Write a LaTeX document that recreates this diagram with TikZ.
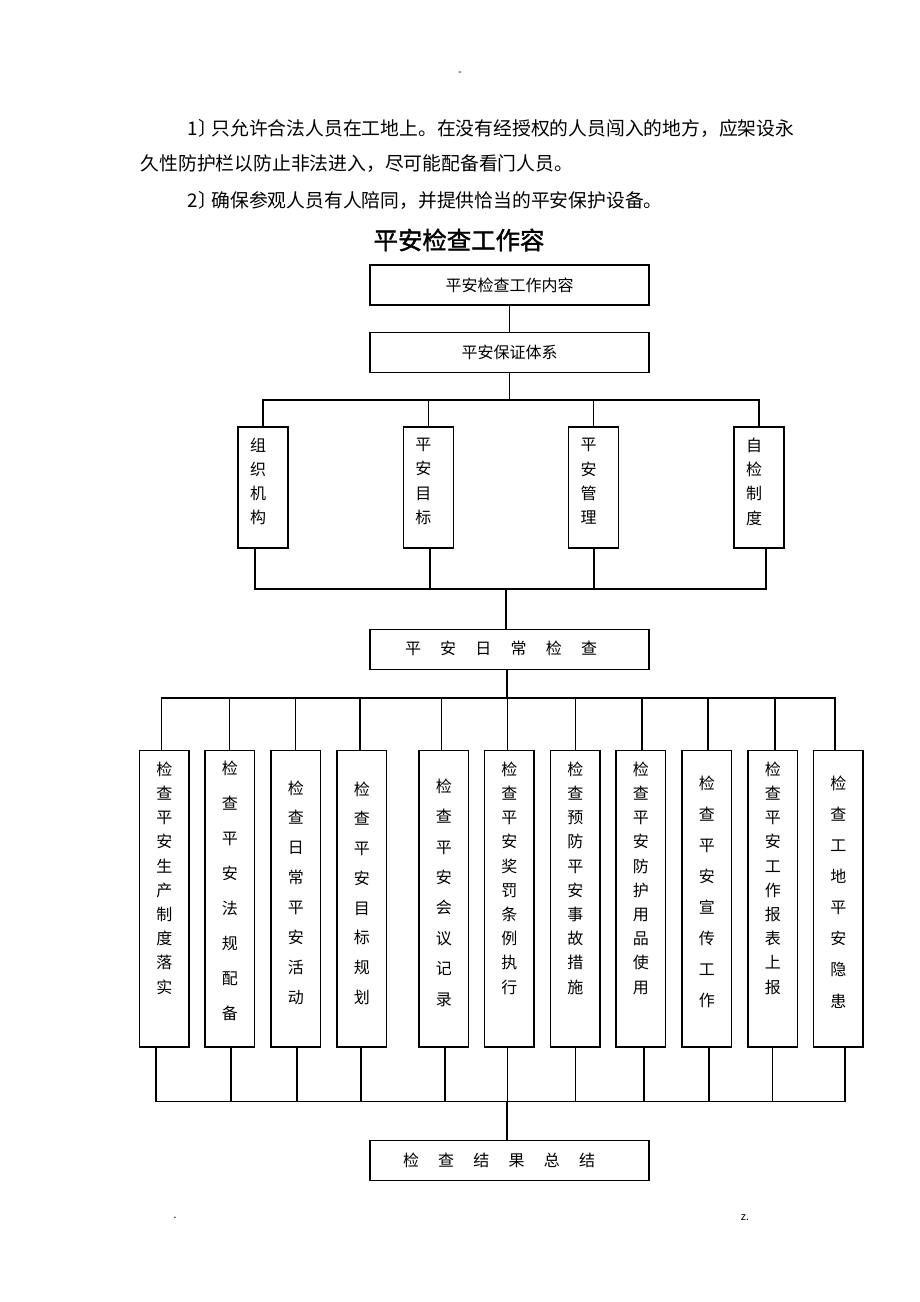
\documentclass[tikz,border=0pt]{standalone}
\usepackage{fontspec}
\setmainfont{Noto Sans CJK SC}
\newfontfamily\cjk{Noto Sans CJK SC}
\newfontfamily\cjkb[FakeBold=1.5]{Noto Sans CJK SC}
\begin{document}
\begin{tikzpicture}[x=0.75pt,y=-0.75pt,line width=0.9pt,
  hbox/.style={draw, minimum width=209.25pt, minimum height=30pt, inner sep=0pt, font=\cjk\fontsize{12}{14}\selectfont},
  sbox/.style={draw, minimum width=37.5pt, minimum height=90.75pt, inner sep=0pt},
  cbox/.style={draw, minimum width=37.1pt, minimum height=222.4pt, inner sep=0pt},
  lbl/.style={inner sep=0pt, font=\cjk\fontsize{12}{14}\selectfont},
  vlbl/.style={inner sep=0pt, align=center, font=\cjk\fontsize{12}{#1}\selectfont},
  body/.style={inner sep=0pt, anchor=west, font=\cjk\fontsize{14.1}{16}\selectfont},
  foot/.style={inner sep=0pt, font=\fontsize{8}{9}\selectfont}]
\useasboundingbox (0,0) rectangle (920,1302);
\fill[white] (0,0) rectangle (920,1302);

% header / body text
\node[foot] (hdr) at (460,74) {-};
\node[body] (p1) at (187,128) {1〕\kern-4pt 只允许合法人员在工地上。在没有经授权的人员闯入的地方，应架设永};
\node[body] (p2) at (140,164) {久性防护栏以防止非法进入，尽可能配备看门人员。};
\node[body] (p3) at (187,200) {2〕\kern-4pt 确保参观人员有人陪同，并提供恰当的平安保护设备。};
\node[inner sep=0pt, font=\cjkb\fontsize{18.3}{20}\selectfont] (title) at (459,240) {平安检查工作容};

% top boxes
\node[hbox] (t1) at (509.5,285) {平安检查工作内容};
\node[hbox] (t2) at (509.5,352.5) {平安保证体系};
\draw (t1) -- (t2);

% four boxes
\foreach \i/\cx/\t in {1/263/{组\\织\\机\\构}, 2/428.3/{平\\安\\目\\标}, 3/593.7/{平\\安\\管\\理}, 4/759/{自\\检\\制\\度}}{
  \node[sbox] (s\i) at (\cx,487.5) {};
  \node[vlbl=18.2pt] (st\i) at (\cx-5,481.5) {\t};
}
\coordinate (b1) at (510,400);
\draw (t2.south) -- (t2.south |- b1);
\draw (s1.north) -- (s1.north |- b1) -- (s4.north |- b1) -- (s4.north);
\draw (s2.north) -- (s2.north |- b1);
\draw (s3.north) -- (s3.north |- b1);

\node[hbox] (t3) at (509.5,649.5) {};
\node[lbl] (t3t) at (501,648) {平\hspace{14.4pt}安\hspace{14.4pt}日\hspace{14.4pt}常\hspace{14.4pt}检\hspace{14.4pt}查};

\coordinate (b2) at (506,589);
\draw ([xshift=-6pt]s1.south) -- ([xshift=-6pt]s1.south |- b2) -- ([xshift=5.25pt]s4.south |- b2) -- ([xshift=5.25pt]s4.south);
\draw ([xshift=1.3pt]s2.south) -- ([xshift=1.3pt]s2.south |- b2);
\draw ([xshift=0.2pt]s3.south) -- ([xshift=0.2pt]s3.south |- b2);
\draw (b2) -- (b2 |- t3.north);

% eleven columns
\foreach \i/\cx/\ty/\sp/\t in {
  1/164.25/878/18.15pt/{检\\查\\平\\安\\生\\产\\制\\度\\落\\实},
  2/229.75/890.5/26.25pt/{检\\查\\平\\安\\法\\规\\配\\备},
  3/295.75/892.5/22.4pt/{检\\查\\日\\常\\平\\安\\活\\动},
  4/361.75/893/22.3pt/{检\\查\\平\\安\\目\\标\\规\\划},
  5/443.75/892.5/22.8pt/{检\\查\\平\\安\\会\\议\\记\\录},
  6/509.25/878/18.15pt/{检\\查\\平\\安\\奖\\罚\\条\\例\\执\\行},
  7/575.25/878/18.15pt/{检\\查\\预\\防\\平\\安\\事\\故\\措\\施},
  8/640.75/878/18.15pt/{检\\查\\平\\安\\防\\护\\用\\品\\使\\用},
  9/706.75/892/23.3pt/{检\\查\\平\\安\\宣\\传\\工\\作},
  10/772.75/878/18.15pt/{检\\查\\平\\安\\工\\作\\报\\表\\上\\报},
  11/838.25/892/23.3pt/{检\\查\\工\\地\\平\\安\\隐\\患}}{
  \node[cbox] (c\i) at (\cx,898.75) {};
  \node[vlbl=\sp] (ct\i) at (\cx,\ty) {\t};
}

\coordinate (b3) at (507,698);
\draw (b3 |- t3.south) -- (b3);
\draw ([xshift=-1.9pt]c1.north) -- ([xshift=-1.9pt]c1.north |- b3) -- ([xshift=-2.45pt]c11.north |- b3) -- ([xshift=-2.45pt]c11.north);
\foreach \i/\a in {2/0,3/0,4/-1.3,5/-1.5,6/-1.5,7/0,8/0.95,9/0.95,10/1.7}{
  \draw ([xshift=\a pt]c\i.north) -- ([xshift=\a pt]c\i.north |- b3);
}

\node[hbox] (t4) at (509.5,1160.5) {};
\node[lbl] (t4t) at (499,1160) {检\hspace{14.4pt}查\hspace{14.4pt}结\hspace{14.4pt}果\hspace{14.4pt}总\hspace{14.4pt}结};

\coordinate (b4) at (507,1101.5);
\draw ([xshift=-6.2pt]c1.south) -- ([xshift=-6.2pt]c1.south |- b4) -- ([xshift=5.05pt]c11.south |- b4) -- ([xshift=5.05pt]c11.south);
\foreach \i/\a in {2/0.95,3/0.95,4/-0.55,5/0.95,6/-1.5,7/0,8/2.45,9/1.7,10/0}{
  \draw ([xshift=\a pt]c\i.south) -- ([xshift=\a pt]c\i.south |- b4);
}
\draw (b4) -- (b4 |- t4.north);

% footer
\node[foot] (f1) at (175,1218) {.};
\node[foot] (f2) at (745,1218) {z.};
\end{tikzpicture}
\end{document}
